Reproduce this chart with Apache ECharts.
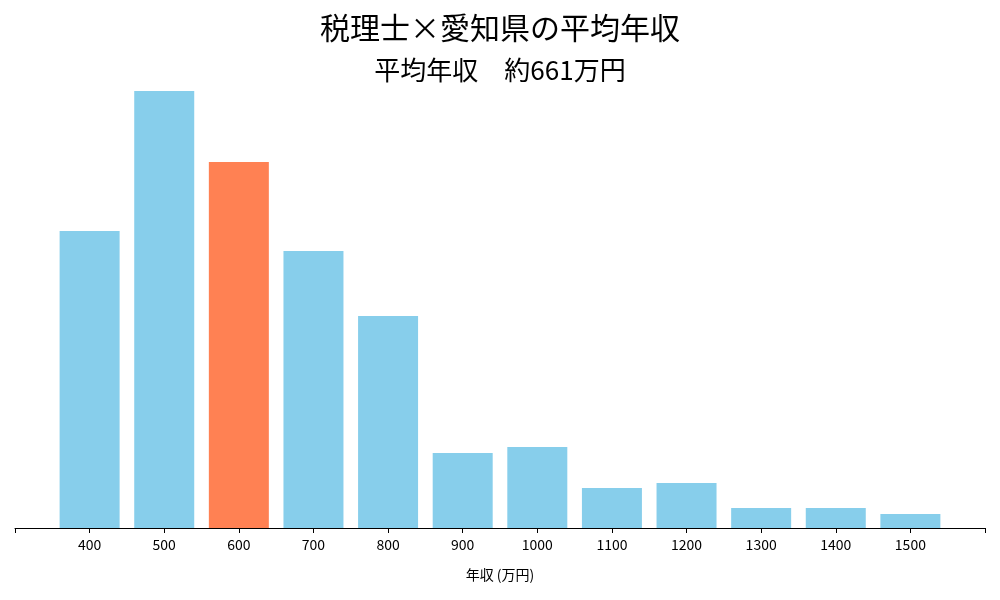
<!DOCTYPE html>
<html><head><meta charset="utf-8">
<script src="https://cdn.jsdelivr.net/npm/echarts@6/dist/echarts.min.js"></script>
<style>html,body{margin:0;background:#fff}#c{width:1000px;height:600px}</style></head>
<body><div id="c"></div>
<script>
const categories = [400,500,600,700,800,900,1000,1100,1200,1300,1400,1500];
const values = [297,437,366,277,212,75,81,40,45,20,20,14];
const highlight = 600;
const chart = echarts.init(document.getElementById('c'));
const F = '"Noto Sans CJK JP","Noto Sans",sans-serif';
chart.setOption({
  animation:false,
  title:[
    {text:'税理士×愛知県の平均年収',left:'center',top:8,textStyle:{fontFamily:F,fontSize:30,fontWeight:'normal',color:'#000'}},
    {text:'平均年収　約661万円',left:'center',top:52,textStyle:{fontFamily:F,fontSize:26,fontWeight:'normal',color:'#000'}}
  ],
  grid:{left:15,right:15,top:91,bottom:72},
  xAxis:{type:'value',min:300,max:1600,interval:100,
    name:'年収 (万円)',nameLocation:'middle',nameGap:40,nameTextStyle:{fontFamily:F,fontSize:14,color:'#000'},
    axisLine:{show:true,lineStyle:{color:'#000'}},axisTick:{show:true,length:5,lineStyle:{color:'#000'}},
    splitLine:{show:false},
    axisLabel:{fontFamily:F,fontSize:14,color:'#000',margin:10,formatter:v=>(v<400||v>1500)?'':String(v)}},
  yAxis:{type:'value',min:0,max:437,show:false,splitLine:{show:false}},
  series:[{type:'bar',barWidth:60,
    data:categories.map((c,i)=>({value:[c,values[i]],itemStyle:{color:c===highlight?'#FF8153':'#87CEEB'}}))}]
});
</script></body></html>
